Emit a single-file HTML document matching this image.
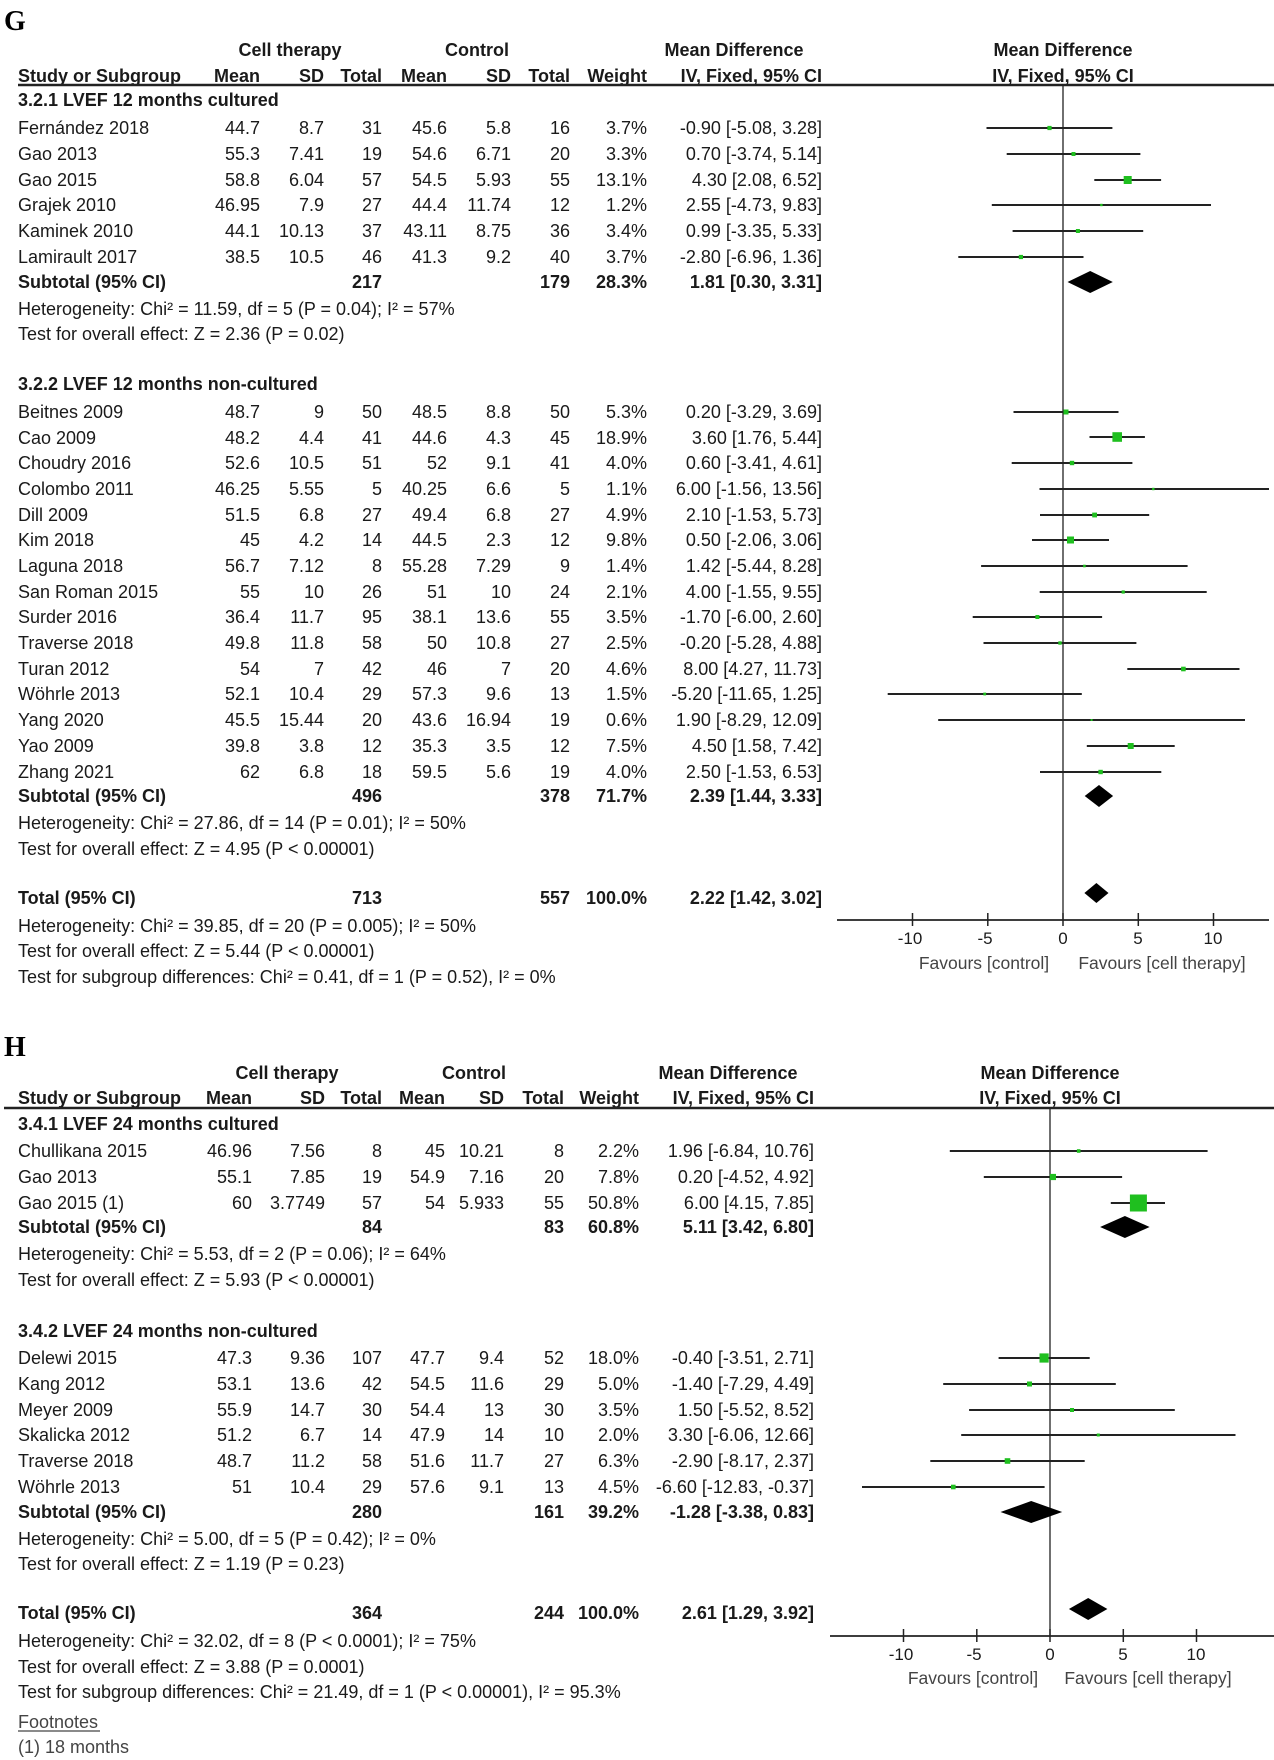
<!DOCTYPE html>
<html><head><meta charset="utf-8"><style>
html,body{margin:0;padding:0;background:#fff;}
svg{display:block;}
text{font-family:"Liberation Sans",Arial,sans-serif;font-size:18px;fill:#1a1a1a;}
.b{font-weight:bold;}
.e{text-anchor:end;}
.m{text-anchor:middle;}
.t{font-size:17px;fill:#1a1a1a;text-anchor:middle;}
.f{font-size:17.5px;fill:#444;text-anchor:middle;}
.L{font-family:"Liberation Serif",serif;font-size:28px;font-weight:bold;fill:#000;}
line{stroke:#222;stroke-width:2;}
.sq{fill:#1fbf1f;}
</style></head><body>
<svg width="1274" height="1760" viewBox="0 0 1274 1760" xmlns="http://www.w3.org/2000/svg">
<!-- ===================== G ===================== -->
<text class="L" x="4" y="30">G</text>
<g class="b">
<text class="m" x="290" y="56">Cell therapy</text>
<text class="m" x="477" y="56">Control</text>
<text class="m" x="734" y="56">Mean Difference</text>
<text class="m" x="1063" y="56">Mean Difference</text>
<text x="18" y="82">Study or Subgroup</text>
<text class="e" x="260" y="82">Mean</text>
<text class="e" x="324" y="82">SD</text>
<text class="e" x="382" y="82">Total</text>
<text class="e" x="447" y="82">Mean</text>
<text class="e" x="511" y="82">SD</text>
<text class="e" x="570" y="82">Total</text>
<text class="e" x="647" y="82">Weight</text>
<text class="e" x="822" y="82">IV, Fixed, 95% CI</text>
<text class="m" x="1063" y="82">IV, Fixed, 95% CI</text>
</g>
<line x1="18" y1="85" x2="1274" y2="85" style="stroke-width:2.5"/>
<line x1="1063" y1="85" x2="1063" y2="920" style="stroke-width:1.3"/>

<text class="b" x="18" y="106">3.2.1 LVEF 12 months cultured</text>
<g>
<text x="18" y="134">Fernández 2018</text><text class="e" x="260" y="134">44.7</text><text class="e" x="324" y="134">8.7</text><text class="e" x="382" y="134">31</text><text class="e" x="447" y="134">45.6</text><text class="e" x="511" y="134">5.8</text><text class="e" x="570" y="134">16</text><text class="e" x="647" y="134">3.7%</text><text class="e" x="822" y="134">-0.90 [-5.08, 3.28]</text>
<text x="18" y="160">Gao 2013</text><text class="e" x="260" y="160">55.3</text><text class="e" x="324" y="160">7.41</text><text class="e" x="382" y="160">19</text><text class="e" x="447" y="160">54.6</text><text class="e" x="511" y="160">6.71</text><text class="e" x="570" y="160">20</text><text class="e" x="647" y="160">3.3%</text><text class="e" x="822" y="160">0.70 [-3.74, 5.14]</text>
<text x="18" y="186">Gao 2015</text><text class="e" x="260" y="186">58.8</text><text class="e" x="324" y="186">6.04</text><text class="e" x="382" y="186">57</text><text class="e" x="447" y="186">54.5</text><text class="e" x="511" y="186">5.93</text><text class="e" x="570" y="186">55</text><text class="e" x="647" y="186">13.1%</text><text class="e" x="822" y="186">4.30 [2.08, 6.52]</text>
<text x="18" y="211">Grajek 2010</text><text class="e" x="260" y="211">46.95</text><text class="e" x="324" y="211">7.9</text><text class="e" x="382" y="211">27</text><text class="e" x="447" y="211">44.4</text><text class="e" x="511" y="211">11.74</text><text class="e" x="570" y="211">12</text><text class="e" x="647" y="211">1.2%</text><text class="e" x="822" y="211">2.55 [-4.73, 9.83]</text>
<text x="18" y="237">Kaminek 2010</text><text class="e" x="260" y="237">44.1</text><text class="e" x="324" y="237">10.13</text><text class="e" x="382" y="237">37</text><text class="e" x="447" y="237">43.11</text><text class="e" x="511" y="237">8.75</text><text class="e" x="570" y="237">36</text><text class="e" x="647" y="237">3.4%</text><text class="e" x="822" y="237">0.99 [-3.35, 5.33]</text>
<text x="18" y="263">Lamirault 2017</text><text class="e" x="260" y="263">38.5</text><text class="e" x="324" y="263">10.5</text><text class="e" x="382" y="263">46</text><text class="e" x="447" y="263">41.3</text><text class="e" x="511" y="263">9.2</text><text class="e" x="570" y="263">40</text><text class="e" x="647" y="263">3.7%</text><text class="e" x="822" y="263">-2.80 [-6.96, 1.36]</text>
</g>
<g class="b"><text x="18" y="288">Subtotal (95% CI)</text><text class="e" x="382" y="288">217</text><text class="e" x="570" y="288">179</text><text class="e" x="647" y="288">28.3%</text><text class="e" x="822" y="288">1.81 [0.30, 3.31]</text></g>
<text x="18" y="315">Heterogeneity: Chi² = 11.59, df = 5 (P = 0.04); I² = 57%</text>
<text x="18" y="340">Test for overall effect: Z = 2.36 (P = 0.02)</text>

<text class="b" x="18" y="390">3.2.2 LVEF 12 months non-cultured</text>
<g>
<text x="18" y="418">Beitnes 2009</text><text class="e" x="260" y="418">48.7</text><text class="e" x="324" y="418">9</text><text class="e" x="382" y="418">50</text><text class="e" x="447" y="418">48.5</text><text class="e" x="511" y="418">8.8</text><text class="e" x="570" y="418">50</text><text class="e" x="647" y="418">5.3%</text><text class="e" x="822" y="418">0.20 [-3.29, 3.69]</text>
<text x="18" y="444">Cao 2009</text><text class="e" x="260" y="444">48.2</text><text class="e" x="324" y="444">4.4</text><text class="e" x="382" y="444">41</text><text class="e" x="447" y="444">44.6</text><text class="e" x="511" y="444">4.3</text><text class="e" x="570" y="444">45</text><text class="e" x="647" y="444">18.9%</text><text class="e" x="822" y="444">3.60 [1.76, 5.44]</text>
<text x="18" y="469">Choudry 2016</text><text class="e" x="260" y="469">52.6</text><text class="e" x="324" y="469">10.5</text><text class="e" x="382" y="469">51</text><text class="e" x="447" y="469">52</text><text class="e" x="511" y="469">9.1</text><text class="e" x="570" y="469">41</text><text class="e" x="647" y="469">4.0%</text><text class="e" x="822" y="469">0.60 [-3.41, 4.61]</text>
<text x="18" y="495">Colombo 2011</text><text class="e" x="260" y="495">46.25</text><text class="e" x="324" y="495">5.55</text><text class="e" x="382" y="495">5</text><text class="e" x="447" y="495">40.25</text><text class="e" x="511" y="495">6.6</text><text class="e" x="570" y="495">5</text><text class="e" x="647" y="495">1.1%</text><text class="e" x="822" y="495">6.00 [-1.56, 13.56]</text>
<text x="18" y="521">Dill 2009</text><text class="e" x="260" y="521">51.5</text><text class="e" x="324" y="521">6.8</text><text class="e" x="382" y="521">27</text><text class="e" x="447" y="521">49.4</text><text class="e" x="511" y="521">6.8</text><text class="e" x="570" y="521">27</text><text class="e" x="647" y="521">4.9%</text><text class="e" x="822" y="521">2.10 [-1.53, 5.73]</text>
<text x="18" y="546">Kim 2018</text><text class="e" x="260" y="546">45</text><text class="e" x="324" y="546">4.2</text><text class="e" x="382" y="546">14</text><text class="e" x="447" y="546">44.5</text><text class="e" x="511" y="546">2.3</text><text class="e" x="570" y="546">12</text><text class="e" x="647" y="546">9.8%</text><text class="e" x="822" y="546">0.50 [-2.06, 3.06]</text>
<text x="18" y="572">Laguna 2018</text><text class="e" x="260" y="572">56.7</text><text class="e" x="324" y="572">7.12</text><text class="e" x="382" y="572">8</text><text class="e" x="447" y="572">55.28</text><text class="e" x="511" y="572">7.29</text><text class="e" x="570" y="572">9</text><text class="e" x="647" y="572">1.4%</text><text class="e" x="822" y="572">1.42 [-5.44, 8.28]</text>
<text x="18" y="598">San Roman 2015</text><text class="e" x="260" y="598">55</text><text class="e" x="324" y="598">10</text><text class="e" x="382" y="598">26</text><text class="e" x="447" y="598">51</text><text class="e" x="511" y="598">10</text><text class="e" x="570" y="598">24</text><text class="e" x="647" y="598">2.1%</text><text class="e" x="822" y="598">4.00 [-1.55, 9.55]</text>
<text x="18" y="623">Surder 2016</text><text class="e" x="260" y="623">36.4</text><text class="e" x="324" y="623">11.7</text><text class="e" x="382" y="623">95</text><text class="e" x="447" y="623">38.1</text><text class="e" x="511" y="623">13.6</text><text class="e" x="570" y="623">55</text><text class="e" x="647" y="623">3.5%</text><text class="e" x="822" y="623">-1.70 [-6.00, 2.60]</text>
<text x="18" y="649">Traverse 2018</text><text class="e" x="260" y="649">49.8</text><text class="e" x="324" y="649">11.8</text><text class="e" x="382" y="649">58</text><text class="e" x="447" y="649">50</text><text class="e" x="511" y="649">10.8</text><text class="e" x="570" y="649">27</text><text class="e" x="647" y="649">2.5%</text><text class="e" x="822" y="649">-0.20 [-5.28, 4.88]</text>
<text x="18" y="675">Turan 2012</text><text class="e" x="260" y="675">54</text><text class="e" x="324" y="675">7</text><text class="e" x="382" y="675">42</text><text class="e" x="447" y="675">46</text><text class="e" x="511" y="675">7</text><text class="e" x="570" y="675">20</text><text class="e" x="647" y="675">4.6%</text><text class="e" x="822" y="675">8.00 [4.27, 11.73]</text>
<text x="18" y="700">Wöhrle 2013</text><text class="e" x="260" y="700">52.1</text><text class="e" x="324" y="700">10.4</text><text class="e" x="382" y="700">29</text><text class="e" x="447" y="700">57.3</text><text class="e" x="511" y="700">9.6</text><text class="e" x="570" y="700">13</text><text class="e" x="647" y="700">1.5%</text><text class="e" x="822" y="700">-5.20 [-11.65, 1.25]</text>
<text x="18" y="726">Yang 2020</text><text class="e" x="260" y="726">45.5</text><text class="e" x="324" y="726">15.44</text><text class="e" x="382" y="726">20</text><text class="e" x="447" y="726">43.6</text><text class="e" x="511" y="726">16.94</text><text class="e" x="570" y="726">19</text><text class="e" x="647" y="726">0.6%</text><text class="e" x="822" y="726">1.90 [-8.29, 12.09]</text>
<text x="18" y="752">Yao 2009</text><text class="e" x="260" y="752">39.8</text><text class="e" x="324" y="752">3.8</text><text class="e" x="382" y="752">12</text><text class="e" x="447" y="752">35.3</text><text class="e" x="511" y="752">3.5</text><text class="e" x="570" y="752">12</text><text class="e" x="647" y="752">7.5%</text><text class="e" x="822" y="752">4.50 [1.58, 7.42]</text>
<text x="18" y="778">Zhang 2021</text><text class="e" x="260" y="778">62</text><text class="e" x="324" y="778">6.8</text><text class="e" x="382" y="778">18</text><text class="e" x="447" y="778">59.5</text><text class="e" x="511" y="778">5.6</text><text class="e" x="570" y="778">19</text><text class="e" x="647" y="778">4.0%</text><text class="e" x="822" y="778">2.50 [-1.53, 6.53]</text>
</g>
<g class="b"><text x="18" y="802">Subtotal (95% CI)</text><text class="e" x="382" y="802">496</text><text class="e" x="570" y="802">378</text><text class="e" x="647" y="802">71.7%</text><text class="e" x="822" y="802">2.39 [1.44, 3.33]</text></g>
<text x="18" y="829">Heterogeneity: Chi² = 27.86, df = 14 (P = 0.01); I² = 50%</text>
<text x="18" y="855">Test for overall effect: Z = 4.95 (P &lt; 0.00001)</text>
<g class="b"><text x="18" y="904">Total (95% CI)</text><text class="e" x="382" y="904">713</text><text class="e" x="570" y="904">557</text><text class="e" x="647" y="904">100.0%</text><text class="e" x="822" y="904">2.22 [1.42, 3.02]</text></g>
<text x="18" y="932">Heterogeneity: Chi² = 39.85, df = 20 (P = 0.005); I² = 50%</text>
<text x="18" y="957">Test for overall effect: Z = 5.44 (P &lt; 0.00001)</text>
<text x="18" y="983">Test for subgroup differences: Chi² = 0.41, df = 1 (P = 0.52), I² = 0%</text>

<!-- G plot -->
<g>
<line x1="986.5" y1="128" x2="1112.4" y2="128"/><rect class="sq" x="1047.4" y="125.9" width="4.2" height="4.2"/>
<line x1="1006.7" y1="154" x2="1140.4" y2="154"/><rect class="sq" x="1071.5" y="152" width="4" height="4"/>
<line x1="1094.3" y1="180" x2="1161.1" y2="180"/><rect class="sq" x="1123.7" y="176" width="8" height="8"/>
<line x1="991.8" y1="205" x2="1211" y2="205"/><rect class="sq" x="1100.2" y="203.8" width="2.4" height="2.4"/>
<line x1="1012.6" y1="231" x2="1143.2" y2="231"/><rect class="sq" x="1075.9" y="229" width="4" height="4"/>
<line x1="958.3" y1="257" x2="1083.5" y2="257"/><rect class="sq" x="1018.8" y="254.9" width="4.2" height="4.2"/>
<polygon points="1067.5,282 1090.2,271 1112.8,282 1090.2,293" fill="#000"/>

<line x1="1013.5" y1="412" x2="1118.5" y2="412"/><rect class="sq" x="1063.5" y="409.5" width="5" height="5"/>
<line x1="1089.5" y1="437" x2="1144.9" y2="437"/><rect class="sq" x="1112.4" y="432.2" width="9.6" height="9.6"/>
<line x1="1011.7" y1="463" x2="1132.4" y2="463"/><rect class="sq" x="1069.8" y="460.8" width="4.4" height="4.4"/>
<line x1="1039.5" y1="489" x2="1269" y2="489"/><rect class="sq" x="1152.1" y="487.8" width="2.4" height="2.4"/>
<line x1="1040" y1="515" x2="1149.2" y2="515"/><rect class="sq" x="1092.2" y="512.6" width="4.8" height="4.8"/>
<line x1="1032" y1="540" x2="1109" y2="540"/><rect class="sq" x="1067" y="536.5" width="7" height="7"/>
<line x1="981.1" y1="566" x2="1187.6" y2="566"/><rect class="sq" x="1083.1" y="564.7" width="2.6" height="2.6"/>
<line x1="1039.7" y1="592" x2="1206.7" y2="592"/><rect class="sq" x="1121.6" y="590.4" width="3.2" height="3.2"/>
<line x1="972.7" y1="617" x2="1102.1" y2="617"/><rect class="sq" x="1035.4" y="615" width="4" height="4"/>
<line x1="983.5" y1="643" x2="1136.4" y2="643"/><rect class="sq" x="1058.3" y="641.3" width="3.4" height="3.4"/>
<line x1="1127.3" y1="669" x2="1239.5" y2="669"/><rect class="sq" x="1181.1" y="666.7" width="4.6" height="4.6"/>
<line x1="887.7" y1="694" x2="1081.8" y2="694"/><rect class="sq" x="983.3" y="692.6" width="2.8" height="2.8"/>
<line x1="938.2" y1="720" x2="1245" y2="720"/><rect class="sq" x="1090.6" y="719" width="2" height="2"/>
<line x1="1086.8" y1="746" x2="1174.7" y2="746"/><rect class="sq" x="1127.7" y="743" width="6" height="6"/>
<line x1="1040" y1="772" x2="1161.3" y2="772"/><rect class="sq" x="1098.4" y="769.8" width="4.4" height="4.4"/>
<polygon points="1084.7,796 1099,785 1113.1,796 1099,807" fill="#000"/>
<polygon points="1084.4,893 1096.4,883 1108.5,893 1096.4,903" fill="#000"/>

<line x1="837" y1="920" x2="1269" y2="920" style="stroke-width:1.8"/>
<line x1="912.5" y1="913" x2="912.5" y2="926" style="stroke-width:1.5"/>
<line x1="987.8" y1="913" x2="987.8" y2="926" style="stroke-width:1.5"/>
<line x1="1063" y1="913" x2="1063" y2="926" style="stroke-width:1.5"/>
<line x1="1138.3" y1="913" x2="1138.3" y2="926" style="stroke-width:1.5"/>
<line x1="1213.5" y1="913" x2="1213.5" y2="926" style="stroke-width:1.5"/>
<text class="t" x="910" y="944">-10</text>
<text class="t" x="985" y="944">-5</text>
<text class="t" x="1063" y="944">0</text>
<text class="t" x="1138" y="944">5</text>
<text class="t" x="1213" y="944">10</text>
<text class="f" x="984" y="969">Favours [control]</text>
<text class="f" x="1162" y="969">Favours [cell therapy]</text>
</g>

<!-- ===================== H ===================== -->
<text class="L" x="4" y="1056">H</text>
<g class="b">
<text class="m" x="287" y="1079">Cell therapy</text>
<text class="m" x="474" y="1079">Control</text>
<text class="m" x="728" y="1079">Mean Difference</text>
<text class="m" x="1050" y="1079">Mean Difference</text>
<text x="18" y="1104">Study or Subgroup</text>
<text class="e" x="252" y="1104">Mean</text>
<text class="e" x="325" y="1104">SD</text>
<text class="e" x="382" y="1104">Total</text>
<text class="e" x="445" y="1104">Mean</text>
<text class="e" x="504" y="1104">SD</text>
<text class="e" x="564" y="1104">Total</text>
<text class="e" x="639" y="1104">Weight</text>
<text class="e" x="814" y="1104">IV, Fixed, 95% CI</text>
<text class="m" x="1050" y="1104">IV, Fixed, 95% CI</text>
</g>
<line x1="4" y1="1108" x2="1274" y2="1108" style="stroke-width:2.5"/>
<line x1="1050" y1="1108" x2="1050" y2="1636" style="stroke-width:1.3"/>

<text class="b" x="18" y="1130">3.4.1 LVEF 24 months cultured</text>
<g>
<text x="18" y="1157">Chullikana 2015</text><text class="e" x="252" y="1157">46.96</text><text class="e" x="325" y="1157">7.56</text><text class="e" x="382" y="1157">8</text><text class="e" x="445" y="1157">45</text><text class="e" x="504" y="1157">10.21</text><text class="e" x="564" y="1157">8</text><text class="e" x="639" y="1157">2.2%</text><text class="e" x="814" y="1157">1.96 [-6.84, 10.76]</text>
<text x="18" y="1183">Gao 2013</text><text class="e" x="252" y="1183">55.1</text><text class="e" x="325" y="1183">7.85</text><text class="e" x="382" y="1183">19</text><text class="e" x="445" y="1183">54.9</text><text class="e" x="504" y="1183">7.16</text><text class="e" x="564" y="1183">20</text><text class="e" x="639" y="1183">7.8%</text><text class="e" x="814" y="1183">0.20 [-4.52, 4.92]</text>
<text x="18" y="1209">Gao 2015 (1)</text><text class="e" x="252" y="1209">60</text><text class="e" x="325" y="1209">3.7749</text><text class="e" x="382" y="1209">57</text><text class="e" x="445" y="1209">54</text><text class="e" x="504" y="1209">5.933</text><text class="e" x="564" y="1209">55</text><text class="e" x="639" y="1209">50.8%</text><text class="e" x="814" y="1209">6.00 [4.15, 7.85]</text>
</g>
<g class="b"><text x="18" y="1233">Subtotal (95% CI)</text><text class="e" x="382" y="1233">84</text><text class="e" x="564" y="1233">83</text><text class="e" x="639" y="1233">60.8%</text><text class="e" x="814" y="1233">5.11 [3.42, 6.80]</text></g>
<text x="18" y="1260">Heterogeneity: Chi² = 5.53, df = 2 (P = 0.06); I² = 64%</text>
<text x="18" y="1286">Test for overall effect: Z = 5.93 (P &lt; 0.00001)</text>

<text class="b" x="18" y="1337">3.4.2 LVEF 24 months non-cultured</text>
<g>
<text x="18" y="1364">Delewi 2015</text><text class="e" x="252" y="1364">47.3</text><text class="e" x="325" y="1364">9.36</text><text class="e" x="382" y="1364">107</text><text class="e" x="445" y="1364">47.7</text><text class="e" x="504" y="1364">9.4</text><text class="e" x="564" y="1364">52</text><text class="e" x="639" y="1364">18.0%</text><text class="e" x="814" y="1364">-0.40 [-3.51, 2.71]</text>
<text x="18" y="1390">Kang 2012</text><text class="e" x="252" y="1390">53.1</text><text class="e" x="325" y="1390">13.6</text><text class="e" x="382" y="1390">42</text><text class="e" x="445" y="1390">54.5</text><text class="e" x="504" y="1390">11.6</text><text class="e" x="564" y="1390">29</text><text class="e" x="639" y="1390">5.0%</text><text class="e" x="814" y="1390">-1.40 [-7.29, 4.49]</text>
<text x="18" y="1416">Meyer 2009</text><text class="e" x="252" y="1416">55.9</text><text class="e" x="325" y="1416">14.7</text><text class="e" x="382" y="1416">30</text><text class="e" x="445" y="1416">54.4</text><text class="e" x="504" y="1416">13</text><text class="e" x="564" y="1416">30</text><text class="e" x="639" y="1416">3.5%</text><text class="e" x="814" y="1416">1.50 [-5.52, 8.52]</text>
<text x="18" y="1441">Skalicka 2012</text><text class="e" x="252" y="1441">51.2</text><text class="e" x="325" y="1441">6.7</text><text class="e" x="382" y="1441">14</text><text class="e" x="445" y="1441">47.9</text><text class="e" x="504" y="1441">14</text><text class="e" x="564" y="1441">10</text><text class="e" x="639" y="1441">2.0%</text><text class="e" x="814" y="1441">3.30 [-6.06, 12.66]</text>
<text x="18" y="1467">Traverse 2018</text><text class="e" x="252" y="1467">48.7</text><text class="e" x="325" y="1467">11.2</text><text class="e" x="382" y="1467">58</text><text class="e" x="445" y="1467">51.6</text><text class="e" x="504" y="1467">11.7</text><text class="e" x="564" y="1467">27</text><text class="e" x="639" y="1467">6.3%</text><text class="e" x="814" y="1467">-2.90 [-8.17, 2.37]</text>
<text x="18" y="1493">Wöhrle 2013</text><text class="e" x="252" y="1493">51</text><text class="e" x="325" y="1493">10.4</text><text class="e" x="382" y="1493">29</text><text class="e" x="445" y="1493">57.6</text><text class="e" x="504" y="1493">9.1</text><text class="e" x="564" y="1493">13</text><text class="e" x="639" y="1493">4.5%</text><text class="e" x="814" y="1493">-6.60 [-12.83, -0.37]</text>
</g>
<g class="b"><text x="18" y="1518">Subtotal (95% CI)</text><text class="e" x="382" y="1518">280</text><text class="e" x="564" y="1518">161</text><text class="e" x="639" y="1518">39.2%</text><text class="e" x="814" y="1518">-1.28 [-3.38, 0.83]</text></g>
<text x="18" y="1545">Heterogeneity: Chi² = 5.00, df = 5 (P = 0.42); I² = 0%</text>
<text x="18" y="1570">Test for overall effect: Z = 1.19 (P = 0.23)</text>
<g class="b"><text x="18" y="1619">Total (95% CI)</text><text class="e" x="382" y="1619">364</text><text class="e" x="564" y="1619">244</text><text class="e" x="639" y="1619">100.0%</text><text class="e" x="814" y="1619">2.61 [1.29, 3.92]</text></g>
<text x="18" y="1647">Heterogeneity: Chi² = 32.02, df = 8 (P &lt; 0.0001); I² = 75%</text>
<text x="18" y="1673">Test for overall effect: Z = 3.88 (P = 0.0001)</text>
<text x="18" y="1698">Test for subgroup differences: Chi² = 21.49, df = 1 (P &lt; 0.00001), I² = 95.3%</text>
<text x="18" y="1728" style="fill:#444">Footnotes</text>
<line x1="18" y1="1731" x2="100" y2="1731" style="stroke:#444;stroke-width:1.2"/>
<text x="18" y="1753" style="fill:#444">(1) 18 months</text>

<!-- H plot -->
<g>
<line x1="949.8" y1="1151" x2="1207.6" y2="1151"/><rect class="sq" x="1076.9" y="1149.2" width="3.6" height="3.6"/>
<line x1="983.8" y1="1177" x2="1122.1" y2="1177"/><rect class="sq" x="1049.8" y="1173.9" width="6.2" height="6.2"/>
<line x1="1110.8" y1="1203" x2="1165" y2="1203"/><rect class="sq" x="1129.9" y="1194.5" width="17" height="17"/>
<polygon points="1100.1,1227 1124.9,1216 1149.6,1227 1124.9,1238" fill="#000"/>

<line x1="998.6" y1="1358" x2="1089.7" y2="1358"/><rect class="sq" x="1039.5" y="1353.4" width="9.2" height="9.2"/>
<line x1="943.2" y1="1384" x2="1115.8" y2="1384"/><rect class="sq" x="1027" y="1381.5" width="5" height="5"/>
<line x1="969.1" y1="1410" x2="1174.8" y2="1410"/><rect class="sq" x="1070" y="1408" width="4" height="4"/>
<line x1="961.2" y1="1435" x2="1235.5" y2="1435"/><rect class="sq" x="1096.8" y="1433.5" width="3" height="3"/>
<line x1="930.3" y1="1461" x2="1084.7" y2="1461"/><rect class="sq" x="1004.7" y="1458.2" width="5.6" height="5.6"/>
<line x1="862" y1="1487" x2="1044.6" y2="1487"/><rect class="sq" x="951" y="1484.7" width="4.6" height="4.6"/>
<polygon points="1000.5,1512 1031.2,1501 1062.2,1512 1031.2,1523" fill="#000"/>
<polygon points="1068.9,1609 1088.2,1598 1107.4,1609 1088.2,1620" fill="#000"/>

<line x1="830" y1="1636" x2="1274" y2="1636" style="stroke-width:1.8"/>
<line x1="903.5" y1="1629" x2="903.5" y2="1642" style="stroke-width:1.5"/>
<line x1="976.8" y1="1629" x2="976.8" y2="1642" style="stroke-width:1.5"/>
<line x1="1050" y1="1629" x2="1050" y2="1642" style="stroke-width:1.5"/>
<line x1="1123.3" y1="1629" x2="1123.3" y2="1642" style="stroke-width:1.5"/>
<line x1="1196.5" y1="1629" x2="1196.5" y2="1642" style="stroke-width:1.5"/>
<text class="t" x="901" y="1660">-10</text>
<text class="t" x="974" y="1660">-5</text>
<text class="t" x="1050" y="1660">0</text>
<text class="t" x="1123" y="1660">5</text>
<text class="t" x="1196" y="1660">10</text>
<text class="f" x="973" y="1684">Favours [control]</text>
<text class="f" x="1148" y="1684">Favours [cell therapy]</text>
</g>
</svg>
</body></html>
